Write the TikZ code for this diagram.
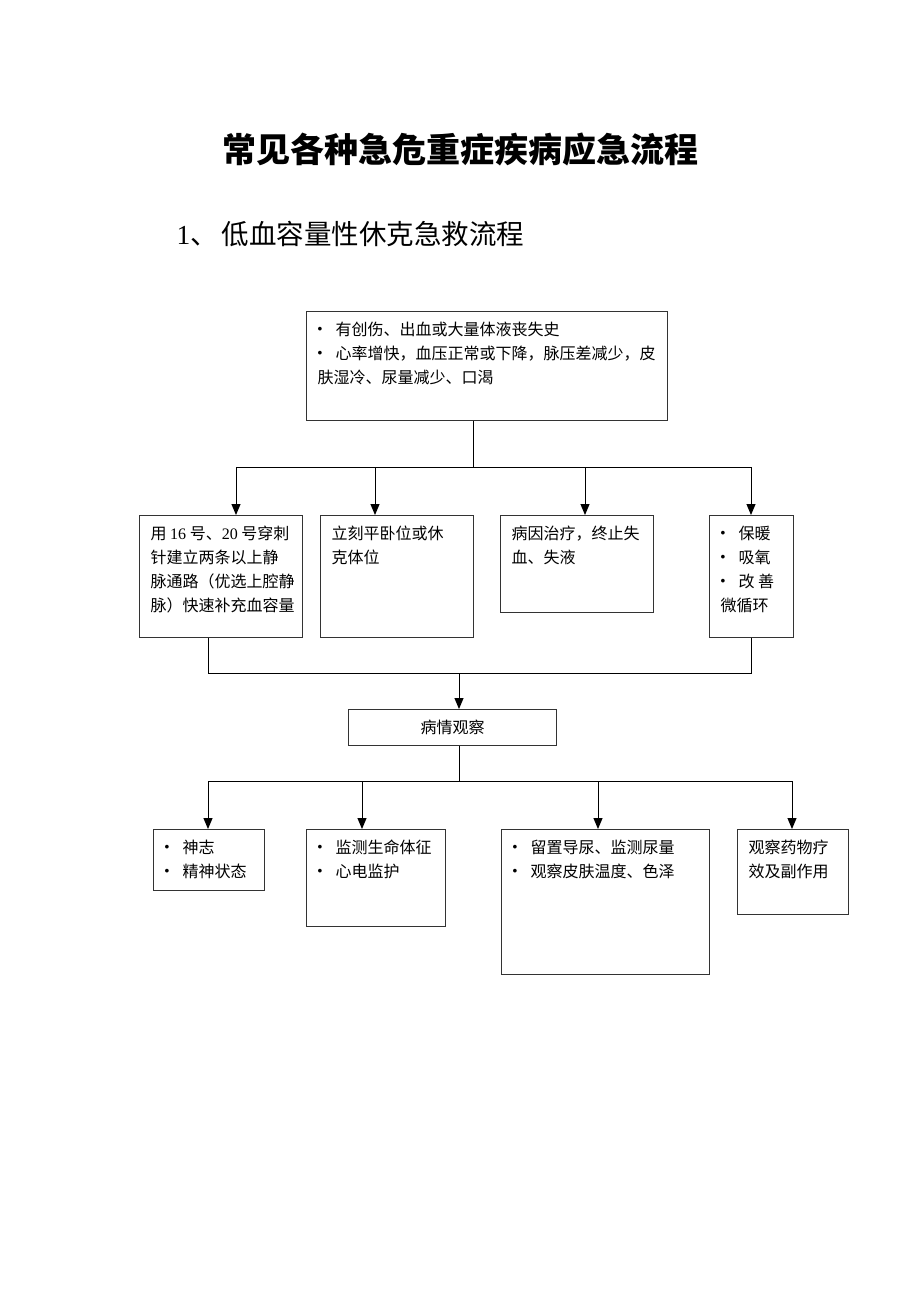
\documentclass[tikz,border=0pt]{standalone}
\usepackage{fontspec}
\setmainfont{Noto Sans CJK SC}
\newfontfamily\lat{Liberation Serif}
\usetikzlibrary{positioning,arrows.meta}
\newcommand{\dotitem}{\makebox[18pt][l]{\raisebox{3.6pt}{\scalebox{0.55}{$\bullet$}}}}
\newcommand{\boxtext}[3]{\parbox[c][#2][t]{#1}{\fontsize{16pt}{24pt}\selectfont #3}}
\tikzset{
   flow/.style={x=1pt,
   y=-1pt,
   >={Triangle[width=9pt,length=11pt]},
   line width=1pt},
 stepbox/.style={rectangle,draw=black!80,line width=1.3pt,anchor=north west,
   inner xsep=11pt,inner ysep=10pt},
 watchbox/.style={rectangle,draw=black!80,line width=1.3pt,anchor=north west,
   minimum width=208pt,minimum height=36pt,inner sep=0pt,
   font=\fontsize{16pt}{16pt}\selectfont},
 heading/.style={inner sep=0pt,font=\fontsize{34pt}{34pt}\selectfont\bfseries},
 subheading/.style={anchor=west,inner sep=0pt,font=\fontsize{27.5pt}{28pt}\selectfont}
 }
\begin{document}
\begin{tikzpicture}[flow]
      \path[fill=white,use as bounding box] (0,0) rectangle (920,1302);
      \node[heading] (title) at (460,150) {常见各种急危重症疾病应急流程};
      \node[subheading] (sub) at (176,234) {{\lat 1}、\hspace{4pt}低血容量性休克急救流程};
      \node[stepbox] (top) at (306,311) {\boxtext{339pt}{89pt}{\dotitem 有创伤、出血或大量体液丧失史\\\dotitem 心率增快，血压正常或下降，脉压差减少，皮\\肤湿冷、尿量减少、口渴}};
      \node[stepbox] (vein) at (139,515) {\boxtext{141pt}{102pt}{用 {\lat 16} 号、{\lat 20} 号穿刺\\针建立两条以上静\\脉通路（优选上腔静\\脉）快速补充血容量}};
      \node[stepbox] (lie) at (320,515) {\boxtext{131pt}{102pt}{立刻平卧位或休\\克体位}};
      \node[stepbox] (cause) at (500,515) {\boxtext{131pt}{77pt}{病因治疗，终止失\\血、失液}};
      \node[stepbox] (warm) at (709,515) {\boxtext{62pt}{102pt}{\dotitem 保暖\\\dotitem 吸氧\\\dotitem 改 善\\微循环}};
      \node[watchbox] (watch) at (348,709) {病情观察};
      \node[stepbox] (mind) at (153,829) {\boxtext{89pt}{41pt}{\dotitem 神志\\\dotitem 精神状态}};
      \node[stepbox] (vital) at (306,829) {\boxtext{117pt}{77pt}{\dotitem 监测生命体征\\\dotitem 心电监护}};
      \node[stepbox] (urine) at (501,829) {\boxtext{186pt}{125pt}{\dotitem 留置导尿、监测尿量\\\dotitem 观察皮肤温度、色泽}};
      \node[stepbox] (drug) at (737,829) {\boxtext{89pt}{65pt}{观察药物疗\\效及副作用}};
      \coordinate (s0) at (473,467);
      \coordinate (s1) at (236,467);
      \coordinate (s2) at (375,467);
      \coordinate (s3) at (585,467);
      \coordinate (s4) at (751,467);
      \coordinate (m0) at (459,673);
      \coordinate (m1) at (208,673);
      \coordinate (m2) at (751,673);
      \coordinate (t0) at (459,781);
      \coordinate (t1) at (208,781);
      \coordinate (t2) at (362,781);
      \coordinate (t3) at (598,781);
      \coordinate (t4) at (792,781);
      \draw (s0 |- top.south) to (s0);
      \draw (s1) to (s4);
      \draw[->] (s1) to (s1 |- vein.north);
      \draw[->] (s2) to (s2 |- lie.north);
      \draw[->] (s3) to (s3 |- cause.north);
      \draw[->] (s4) to (s4 |- warm.north);
      \draw (m1 |- vein.south) -- (m1) -- (m2) -- (m2 |- warm.south);
      \draw[->] (m0) to (m0 |- watch.north);
      \draw (t0 |- watch.south) to (t0);
      \draw (t1) to (t4);
      \draw[->] (t1) to (t1 |- mind.north);
      \draw[->] (t2) to (t2 |- vital.north);
      \draw[->] (t3) to (t3 |- urine.north);
      \draw[->] (t4) to (t4 |- drug.north);
    \end{tikzpicture}
\end{document}
